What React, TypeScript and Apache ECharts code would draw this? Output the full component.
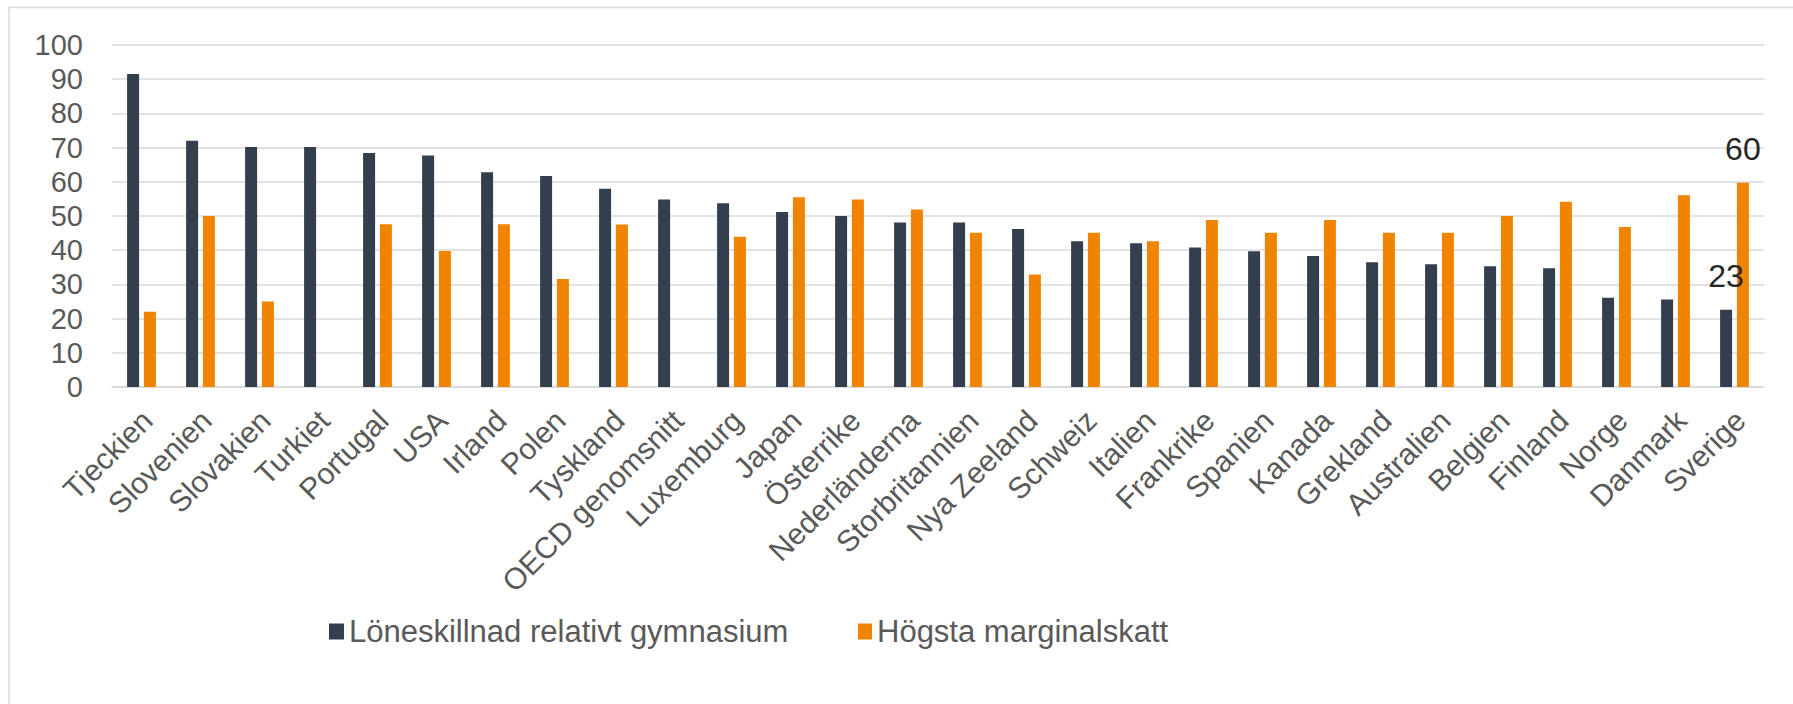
import React, { useEffect, useRef } from "react";
import * as echarts from "echarts";

const categories = [
  "Tjeckien", "Slovenien", "Slovakien", "Turkiet", "Portugal", "USA", "Irland", "Polen",
  "Tyskland", "OECD genomsnitt", "Luxemburg", "Japan", "Österrike", "Nederländerna",
  "Storbritannien", "Nya Zeeland", "Schweiz", "Italien", "Frankrike", "Spanien", "Kanada",
  "Grekland", "Australien", "Belgien", "Finland", "Norge", "Danmark", "Sverige",
];

const loneskillnad = [
  91.5, 72.0, 70.2, 70.2, 68.4, 67.7, 62.8, 61.7, 58.0, 54.8, 53.7, 51.2, 50.0, 48.1,
  48.1, 46.2, 42.6, 42.0, 40.8, 39.7, 38.3, 36.5, 35.9, 35.3, 34.7, 26.1, 25.6, 22.6,
];

const marginalskatt = [
  22.0, 50.0, 25.0, null, 47.6, 39.8, 47.6, 31.6, 47.5, null, 43.9, 55.5, 54.8, 51.9,
  45.1, 32.9, 45.1, 42.6, 48.8, 45.1, 48.8, 45.1, 45.1, 50.0, 54.2, 46.8, 56.1, 59.7,
];

const seriesNames = ["Löneskillnad relativt gymnasium", "Högsta marginalskatt"];
const labelledCategory = "Sverige";
const yTicks = { min: 0, max: 100, interval: 10 };

const DARK = "#333f4d";
const ORANGE = "#f08400";
const TEXT = "#595959";
const GRID = "#d9d9d9";
const FONT = "'Liberation Sans', Arial, sans-serif";

export default function App() {
  const ref = useRef<HTMLDivElement>(null);

  useEffect(() => {
    if (!ref.current) return;
    const chart = echarts.init(ref.current, null, { renderer: "svg" });

    const withLabel = (vals: (number | null)[]) =>
      vals.map((v, i) =>
        categories[i] === labelledCategory && v != null
          ? {
              value: v,
              label: {
                show: true,
                position: "top",
                distance: 18,
                fontSize: 32,
                color: "#262626",
                fontFamily: FONT,
                formatter: (p: any) => String(Math.round(p.value)),
              },
            }
          : v
      );

    chart.setOption({
      animation: false,
      backgroundColor: "#ffffff",
      textStyle: { fontFamily: FONT },
      grid: { left: 112, right: 29, top: 45, bottom: 317, containLabel: false },
      legend: [
        {
          data: [seriesNames[0]],
          left: 329,
          top: 616,
          padding: 0,
          icon: "rect",
          itemWidth: 15,
          itemHeight: 16,
          textStyle: { color: TEXT, fontSize: 31, fontFamily: FONT },
        },
        {
          data: [seriesNames[1]],
          left: 858,
          top: 616,
          padding: 0,
          icon: "rect",
          itemWidth: 14,
          itemHeight: 16,
          textStyle: { color: TEXT, fontSize: 31, fontFamily: FONT },
        },
      ],
      xAxis: {
        type: "category",
        data: categories,
        axisLine: { show: true, lineStyle: { color: GRID, width: 1.5 } },
        axisTick: { show: false },
        axisLabel: {
          interval: 0,
          rotate: 45,
          margin: 34,
          padding: [0, -8, 0, 0],
          color: TEXT,
          fontSize: 30,
          fontFamily: FONT,
        },
      },
      yAxis: {
        type: "value",
        min: yTicks.min,
        max: yTicks.max,
        interval: yTicks.interval,
        axisLine: { show: false },
        axisTick: { show: false },
        axisLabel: { color: TEXT, fontSize: 29, margin: 29, fontFamily: FONT },
        splitLine: { lineStyle: { color: GRID, width: 1.5 } },
      },
      series: [
        {
          name: seriesNames[0],
          type: "bar",
          data: withLabel(loneskillnad),
          barWidth: 12,
          barGap: "40%",
          itemStyle: { color: DARK },
        },
        {
          name: seriesNames[1],
          type: "bar",
          data: withLabel(marginalskatt),
          barWidth: 12,
          barGap: "40%",
          itemStyle: { color: ORANGE },
        },
      ],
      graphic: [
        {
          type: "line",
          shape: { x1: 8, y1: 7.5, x2: 1793, y2: 7.5 },
          style: { stroke: GRID, lineWidth: 1.5 },
        },
        {
          type: "line",
          shape: { x1: 9, y1: 7, x2: 9, y2: 704 },
          style: { stroke: GRID, lineWidth: 1.5 },
        },
      ],
    });

    return () => chart.dispose();
  }, []);

  return (
    <div
      ref={ref}
      style={{ position: "fixed", left: 0, top: 0, width: 1793, height: 704 }}
    />
  );
}
